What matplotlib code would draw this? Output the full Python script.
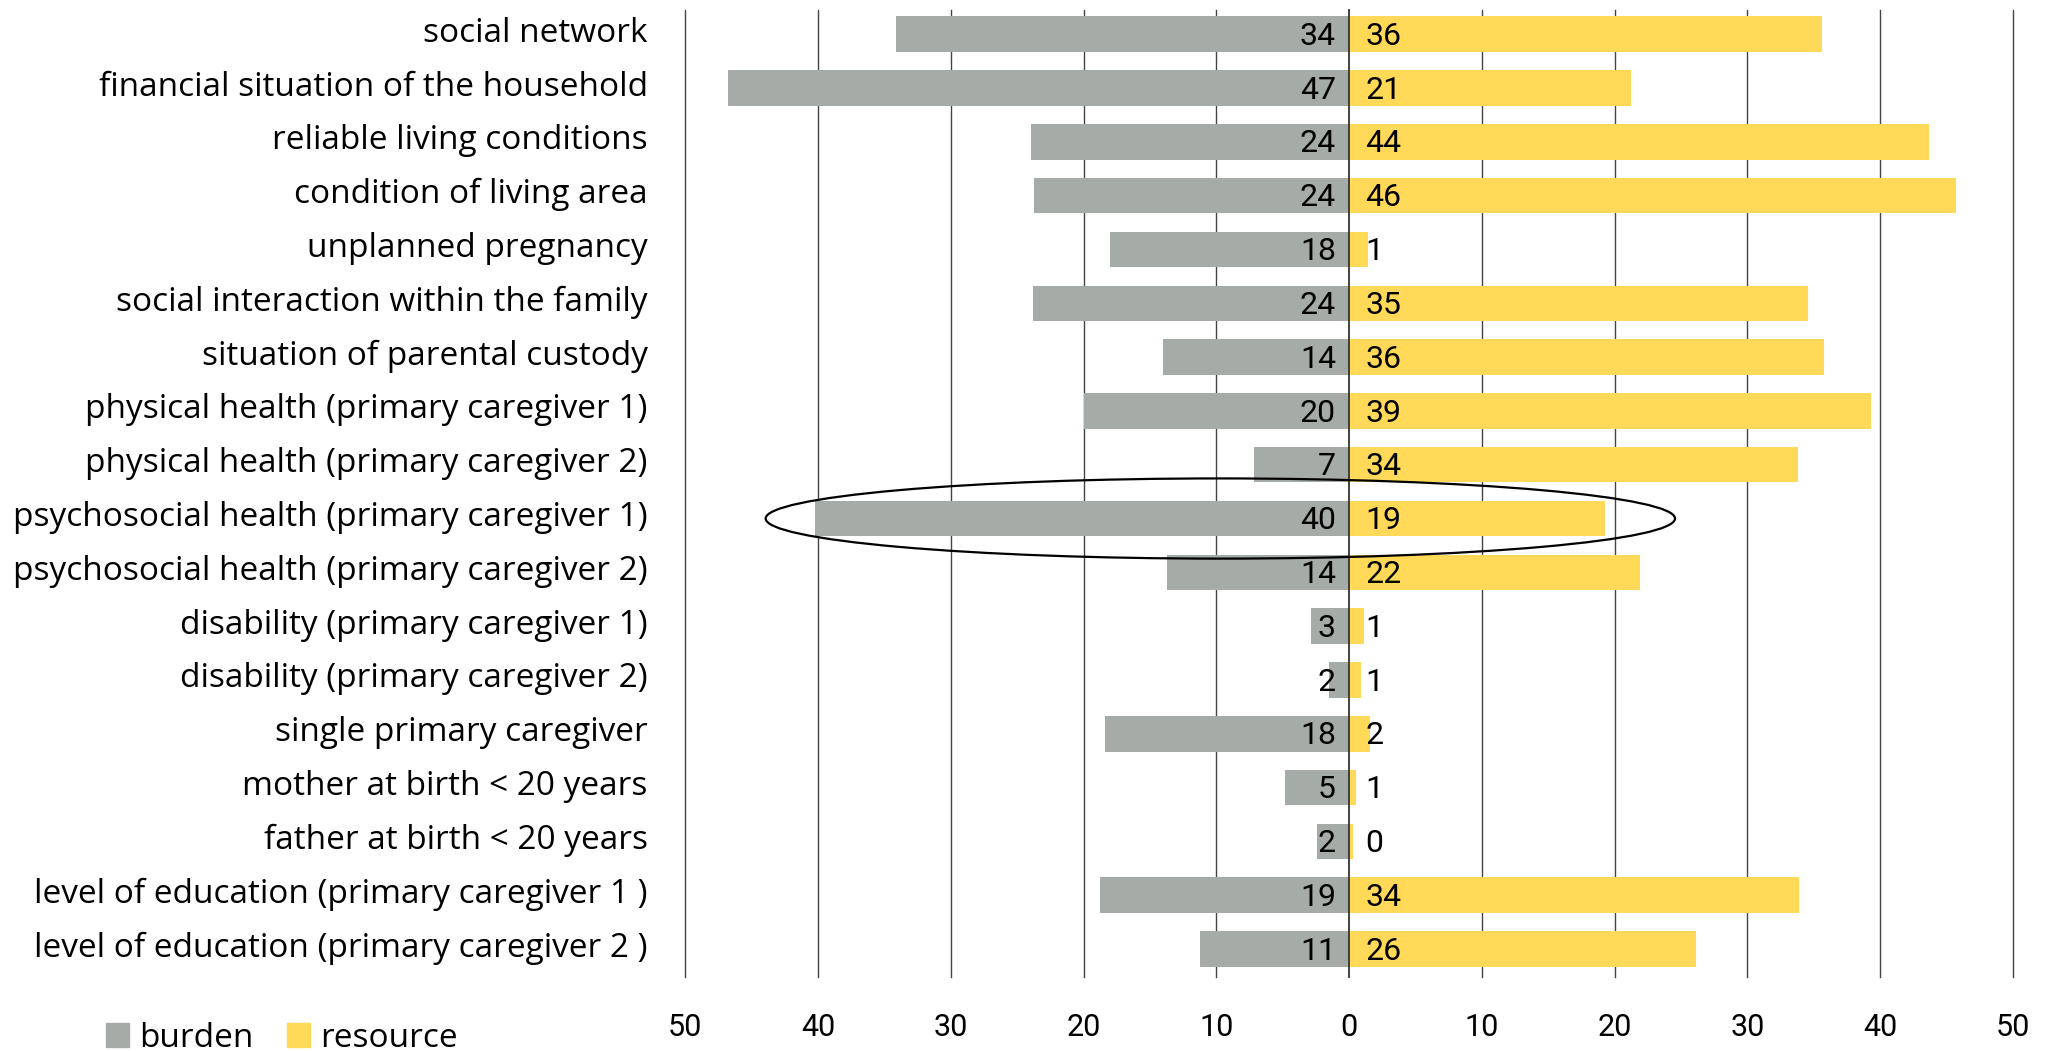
import matplotlib.pyplot as plt
import matplotlib.patches as mpatches
import matplotlib.transforms as mtransforms
import numpy as np

# data (share in %)
categories = ['social network', 'financial situation of the household',
              'reliable living conditions', 'condition of living area',
              'unplanned pregnancy', 'social interaction within the family',
              'situation of parental custody', 'physical health (primary caregiver 1)',
              'physical health (primary caregiver 2)', 'psychosocial health (primary caregiver 1)',
              'psychosocial health (primary caregiver 2)', 'disability (primary caregiver 1)',
              'disability (primary caregiver 2)', 'single primary caregiver',
              'mother at birth < 20 years', 'father at birth < 20 years',
              'level of education (primary caregiver 1 )', 'level of education (primary caregiver 2 )']
burden = [34.1, 46.8, 24.0, 23.7, 18.0, 23.8, 14.0, 20.0, 7.2, 40.2,
          13.7, 2.9, 1.5, 18.4, 4.8, 2.4, 18.8, 11.2]
resource = [35.6, 21.2, 43.7, 45.7, 1.4, 34.6, 35.8, 39.3, 33.8, 19.3,
            21.9, 1.1, 0.9, 1.6, 0.5, 0.3, 33.9, 26.1]
burden_lbl = [34, 47, 24, 24, 18, 24, 14, 20, 7, 40, 14, 3, 2, 18, 5, 2, 19, 11]
resource_lbl = [36, 21, 44, 46, 1, 35, 36, 39, 34, 19, 22, 1, 1, 2, 1, 0, 34, 26]
ticks = [-50, -40, -30, -20, -10, 0, 10, 20, 30, 40, 50]

grey = '#a5aba6'
yellow = '#ffd957'
lab_font = ['Open Sans', 'DejaVu Sans']
num_font = ['Roboto', 'DejaVu Sans']

fig = plt.figure(figsize=(20.55, 10.51), dpi=100)
ax = fig.add_axes([0.3335, 0.0704, 0.6460, 0.9201])

y = np.arange(len(categories))
ax.barh(y, [-b for b in burden], height=0.66, color=grey, zorder=2)
ax.barh(y, resource, height=0.66, color=yellow, zorder=2)

for t in ticks:
    ax.axvline(t, color='#333333' if t == 0 else '#444444', lw=1.3 if t == 0 else 1.0,
               zorder=3 if t == 0 else 1, clip_on=False)

for i in range(len(categories)):
    ax.text(-1.0, i + 0.04, str(burden_lbl[i]), ha='right', va='center',
            fontsize=23, family=num_font, zorder=4)
    ax.text(1.2, i + 0.04, str(resource_lbl[i]), ha='left', va='center',
            fontsize=23, family=num_font, zorder=4)

ax.add_patch(mpatches.Ellipse((-9.7, 9.0), 68.5, 1.49, fill=False,
                              edgecolor='black', lw=1.6, zorder=5))

ax.set_xlim(-50, 50)
ax.set_ylim(17.52, -0.45)
ax.set_xticks(ticks)
ax.set_xticklabels([str(abs(t)) for t in ticks], fontsize=22, family=num_font)
ax.set_yticks(y)
ax.set_yticklabels(categories, fontsize=24, family=lab_font)
ax.tick_params(axis='x', length=0, pad=26)
ax.tick_params(axis='y', length=0, pad=27)
# labels sit a little above the bar centres in the original
shift = mtransforms.ScaledTranslation(0, 0.05, fig.dpi_scale_trans)
for lab in ax.get_yticklabels():
    lab.set_transform(lab.get_transform() + shift)
for s in ax.spines.values():
    s.set_visible(False)

handles = [mpatches.Patch(color=grey, label='burden'),
           mpatches.Patch(color=yellow, label='resource')]
fig.legend(handles=handles, loc='lower left', bbox_to_anchor=(0.037, -0.032),
           ncol=2, frameon=False, prop={'family': lab_font, 'size': 24},
           handlelength=0.7, handleheight=0.7, handletextpad=0.3, columnspacing=1.0)

fig.savefig('out.png', dpi=100)
